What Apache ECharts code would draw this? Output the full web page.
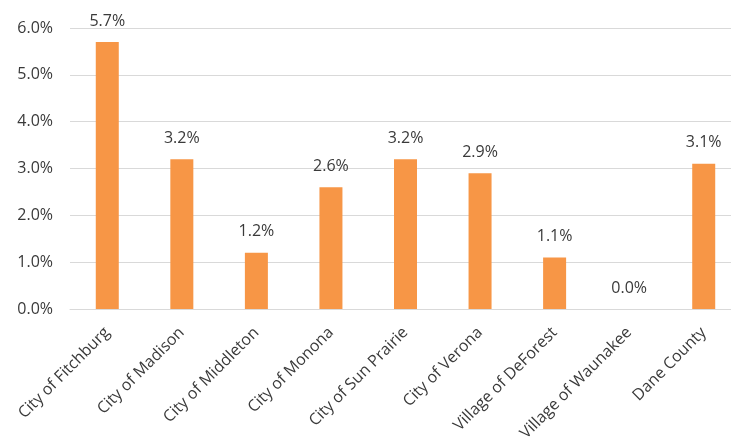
<!DOCTYPE html>
<html>
<head>
<meta charset="utf-8">
<script src="https://cdn.jsdelivr.net/npm/echarts@6/dist/echarts.min.js"></script>
<style>html,body{margin:0;padding:0;background:#fff;}#c{width:731px;height:441px;}</style>
</head>
<body>
<div id="c"></div>
<script>
const categories = ["City of Fitchburg","City of Madison","City of Middleton","City of Monona","City of Sun Prairie","City of Verona","Village of DeForest","Village of Waunakee","Dane County"];
const values = [5.7, 3.2, 1.2, 2.6, 3.2, 2.9, 1.1, 0.0, 3.1];
const yTicks = [0, 1, 2, 3, 4, 5, 6];

const chart = echarts.init(document.getElementById('c'), null, {renderer: 'canvas'});
const font = "'Open Sans', sans-serif";
chart.setOption({
  animation: false,
  grid: {left: 70, right: -10, top: 28, bottom: 132, containLabel: false, outerBoundsMode: 'none'},
  xAxis: {
    type: 'category',
    data: categories,
    axisTick: {show: false},
    axisLine: {lineStyle: {color: '#d9d9d9', width: 1}},
    axisLabel: {rotate: 45, interval: 0, margin: 21, color: '#3a3a3a', fontSize: 16, fontFamily: font}
  },
  yAxis: {
    type: 'value',
    min: yTicks[0],
    max: yTicks[yTicks.length - 1],
    interval: 1,
    axisLine: {show: false},
    axisTick: {show: false},
    splitLine: {lineStyle: {color: '#d9d9d9', width: 1}},
    axisLabel: {margin: 17, color: '#3a3a3a', fontSize: 16, fontFamily: font, formatter: v => v.toFixed(1) + '%'}
  },
  series: [{
    type: 'bar',
    data: values,
    barWidth: 23,
    itemStyle: {color: '#F79646'},
    label: {show: true, position: 'top', distance: 13, color: '#3a3a3a', fontSize: 16, fontFamily: font, formatter: p => p.value.toFixed(1) + '%'}
  }]
});
</script>
</body>
</html>
